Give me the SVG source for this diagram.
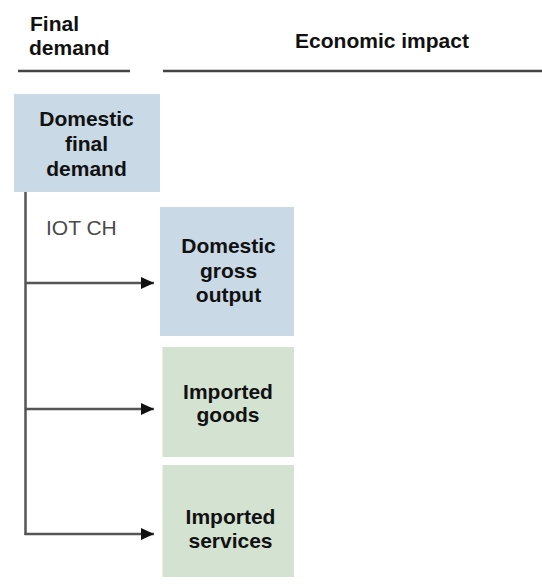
<svg xmlns="http://www.w3.org/2000/svg" width="542" height="586" viewBox="0 0 542 586">
  <style>
    .hdr { font-family: "Liberation Sans", Arial, sans-serif; font-weight: bold; font-size: 21px; fill: #111; }
    .lbl { font-family: "Liberation Sans", Arial, sans-serif; font-weight: bold; font-size: 21px; fill: #111; text-anchor: middle; }
    .note { font-family: "Liberation Sans", Arial, sans-serif; font-size: 21px; fill: #4a4a4a; }
    .rule { stroke: #444; stroke-width: 2.5; }
    .dom { fill: #c9d9e6; }
    .imp { fill: #d4e2d2; }
    .wire { stroke: #555; stroke-width: 2.5; fill: none; }
  </style>
  <defs>
    <marker id="arrow" markerWidth="13" markerHeight="12" refX="13" refY="6" orient="auto" markerUnits="userSpaceOnUse">
      <path d="M0,0 L13,6 L0,12 Z" fill="#111"/>
    </marker>
  </defs>
  <rect width="542" height="586" fill="#fff"/>

  <!-- column headers -->
  <g id="headers">
    <text class="hdr" x="30" y="30.5">Final</text>
    <text class="hdr" x="29" y="55">demand</text>
    <text class="hdr" x="382" y="48" text-anchor="middle">Economic impact</text>
    <line class="rule" x1="18" y1="71" x2="130" y2="71"/>
    <line class="rule" x1="163" y1="71" x2="542" y2="71"/>
  </g>

  <g id="domestic-final-demand">
    <rect class="dom" x="14" y="94" width="146" height="98"/>
    <text class="lbl" x="86.5" y="126">Domestic</text>
    <text class="lbl" x="86.5" y="151">final</text>
    <text class="lbl" x="86.5" y="176">demand</text>
  </g>

  <g id="domestic-gross-output">
    <rect class="dom" x="160" y="207" width="134" height="129"/>
    <text class="lbl" x="228.5" y="253">Domestic</text>
    <text class="lbl" x="228.5" y="277.5">gross</text>
    <text class="lbl" x="228.5" y="301.5">output</text>
  </g>

  <g id="imported-goods">
    <rect class="imp" x="162.5" y="347" width="131.5" height="110"/>
    <text class="lbl" x="228" y="398.5">Imported</text>
    <text class="lbl" x="228" y="421.5">goods</text>
  </g>

  <g id="imported-services">
    <rect class="imp" x="162.5" y="465" width="131.5" height="112"/>
    <text class="lbl" x="230.5" y="523.5">Imported</text>
    <text class="lbl" x="230.5" y="548">services</text>
  </g>

  <g id="connectors">
    <path class="wire" d="M25.5,192 V535"/>
    <path class="wire" d="M25.5,283 H154" marker-end="url(#arrow)"/>
    <path class="wire" d="M25.5,409 H154" marker-end="url(#arrow)"/>
    <path class="wire" d="M24.5,534 H154" marker-end="url(#arrow)"/>
    <text class="note" x="46" y="235">IOT CH</text>
  </g>
</svg>
